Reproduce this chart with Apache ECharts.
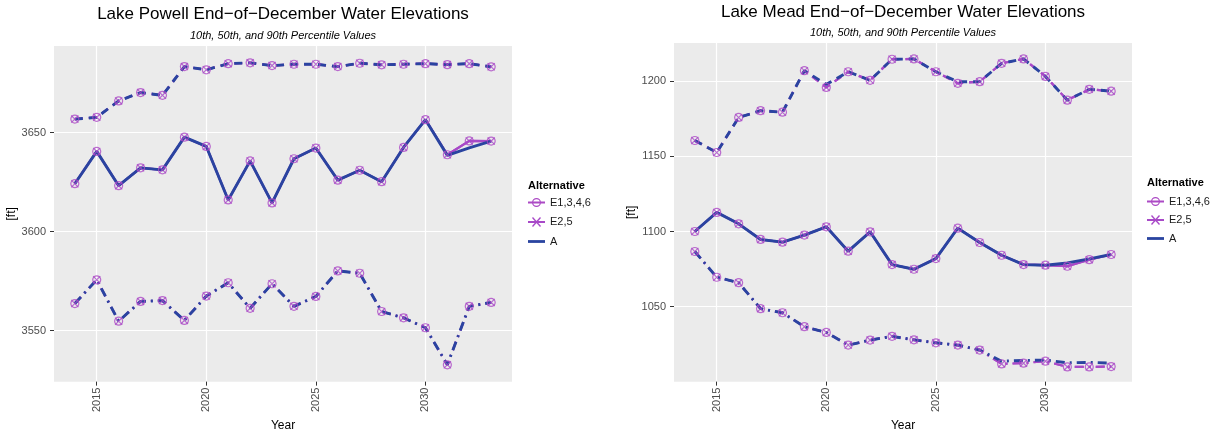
<!DOCTYPE html>
<html>
<head>
<meta charset="utf-8">
<script src="https://cdn.jsdelivr.net/npm/echarts@6/dist/echarts.min.js"></script>
<style>
html,body{margin:0;padding:0;background:#fff;}
#chart{width:1217px;height:437px;}
</style>
</head>
<body>
<div id="chart"></div>
<script>
// ---------- data ----------
const years = [2014,2015,2016,2017,2018,2019,2020,2021,2022,2023,2024,2025,2026,2027,2028,2029,2030,2031,2032,2033];
const alternatives = ['E1,3,4,6', 'E2,5', 'A'];
const xTickValues = [2015, 2020, 2025, 2030];
const powellTickValues = [3550, 3600, 3650];
const meadTickValues = [1050, 1100, 1150, 1200];

// Lake Powell
const powellE1346_p90 = [3656.8,3657.7,3666.0,3670.2,3668.8,3683.3,3681.7,3684.8,3685.2,3683.8,3684.5,3684.5,3683.3,3685.0,3684.2,3684.5,3684.8,3684.3,3684.8,3683.2];
const powellE25_p90   = [3656.8,3657.7,3666.0,3670.2,3668.8,3683.3,3681.7,3684.8,3685.2,3683.8,3684.5,3684.5,3683.3,3685.0,3684.2,3684.5,3684.8,3684.3,3684.8,3683.2];
const powellA_p90     = [3656.8,3657.7,3666.0,3670.2,3668.8,3683.3,3681.7,3684.8,3685.2,3683.8,3684.5,3684.5,3683.3,3685.0,3684.2,3684.5,3684.8,3684.3,3684.8,3683.2];
const powellE1346_p50 = [3624.2,3640.5,3623.2,3632.2,3631.2,3647.7,3643.0,3616.0,3635.7,3614.5,3636.8,3642.2,3626.0,3631.0,3625.2,3642.5,3656.5,3638.8,3645.8,3645.7];
const powellE25_p50   = [3624.2,3640.5,3623.2,3632.2,3631.2,3647.7,3643.0,3616.0,3635.7,3614.5,3636.8,3642.2,3626.0,3631.0,3625.2,3642.5,3656.5,3638.8,3645.8,3645.7];
const powellA_p50     = [3624.2,3640.5,3623.2,3632.2,3631.2,3647.7,3643.0,3616.0,3635.7,3614.5,3636.8,3642.2,3626.0,3631.0,3625.2,3642.5,3656.5,3638.5,3642.3,3645.7];
const powellE1346_p10 = [3563.7,3575.7,3554.8,3564.8,3565.2,3555.2,3567.5,3574.2,3561.3,3573.7,3562.3,3567.3,3580.2,3579.0,3559.7,3556.5,3551.5,3532.8,3562.3,3564.3];
const powellE25_p10   = [3563.7,3575.7,3554.8,3564.8,3565.2,3555.2,3567.5,3574.2,3561.3,3573.7,3562.3,3567.3,3580.2,3579.0,3559.7,3556.5,3551.5,3532.8,3562.3,3564.3];
const powellA_p10     = [3563.7,3575.7,3554.8,3564.8,3565.2,3555.2,3567.5,3574.2,3561.3,3573.7,3562.3,3567.3,3580.2,3579.0,3559.7,3556.5,3551.5,3532.8,3562.3,3564.3];

// Lake Mead
const meadE1346_p90 = [1160.5,1152.5,1175.8,1180.3,1179.3,1206.9,1195.8,1206.2,1200.5,1214.5,1214.7,1206.2,1198.5,1199.6,1211.8,1214.7,1203.1,1187.3,1194.5,1193.3];
const meadE25_p90   = [1160.5,1152.5,1175.8,1180.3,1179.3,1206.9,1195.8,1206.2,1200.5,1214.5,1214.7,1206.2,1198.5,1199.6,1211.8,1214.7,1203.1,1187.3,1194.5,1193.3];
const meadA_p90     = [1160.5,1152.5,1175.8,1180.3,1179.3,1206.9,1197.8,1206.2,1200.5,1214.5,1214.7,1206.2,1199.5,1199.6,1211.8,1214.7,1203.1,1187.3,1194.5,1193.3];
const meadE1346_p50 = [1100.0,1112.7,1105.1,1094.7,1092.9,1097.6,1103.1,1086.9,1099.8,1078.0,1074.9,1082.0,1102.2,1092.7,1084.2,1078.0,1077.6,1076.9,1081.3,1084.7];
const meadE25_p50   = [1100.0,1112.7,1105.1,1094.7,1092.9,1097.6,1103.1,1086.9,1099.8,1078.0,1074.9,1082.0,1102.2,1092.7,1084.2,1078.0,1077.6,1076.9,1081.3,1084.7];
const meadA_p50     = [1100.0,1112.7,1105.1,1094.7,1092.9,1097.6,1103.1,1086.9,1099.8,1078.0,1074.9,1082.0,1102.2,1092.7,1084.2,1078.0,1077.6,1079.1,1081.8,1084.7];
const meadE1346_p10 = [1086.7,1069.6,1066.0,1048.7,1046.0,1036.7,1032.9,1024.5,1027.8,1030.3,1028.0,1026.0,1024.5,1021.2,1012.0,1012.5,1013.8,1010.0,1010.0,1010.2];
const meadE25_p10   = [1086.7,1069.6,1066.0,1048.7,1046.0,1036.7,1032.9,1024.5,1027.8,1030.3,1028.0,1026.0,1024.5,1021.2,1012.0,1012.5,1013.8,1010.0,1010.0,1010.2];
const meadA_p10     = [1086.7,1069.6,1066.0,1048.7,1046.0,1036.7,1032.9,1024.5,1027.8,1030.3,1028.0,1026.0,1024.5,1021.2,1013.8,1014.3,1014.5,1012.7,1013.0,1012.5];

// ---------- styling ----------
const FONT = 'Liberation Sans, Arial, sans-serif';
const MAG1 = '#AC4AC5';
const MAG2 = '#A849C8';
const BLUE = '#2A44A0';
const DASH = { p90: [8, 6], p50: 'solid', p10: [9, 5, 2, 5] };
const X_SYMBOL = 'path://M0,1 L1,0 L10,9 L9,10 Z M9,0 L10,1 L1,10 L0,9 Z';
const ICON_E1 = 'path://M0,4.1 L17,4.1 L17,5.9 L0,5.9 Z M8.5,0.5 A4.5,4.5 0 1,1 8.49,0.5 Z M8.5,1.7 A3.3,3.3 0 1,0 8.51,1.7 Z';
const ICON_E2 = 'path://M0,4.1 L17,4.1 L17,5.9 L0,5.9 Z M4,1 L5,0 L13,9 L12,10 Z M12,0 L13,1 L5,10 L4,9 Z';
const ICON_A = 'path://M0,0 L0,0 M17,10 L17,10 M0,3.6 L17,3.6 L17,6.4 L0,6.4 Z';

function pairs(vals) { return years.map((y, i) => [y, vals[i]]); }

function panelSeries(idx, sets) {
  const out = [];
  ['p90', 'p50', 'p10'].forEach(p => {
    const s = sets[p];
    out.push({ type: 'line', name: 'E1,3,4,6', xAxisIndex: idx, yAxisIndex: idx, data: pairs(s[0]),
      symbol: 'none', lineStyle: { color: MAG1, width: 2.2, type: DASH[p] }, itemStyle: { color: MAG1 }, z: 2, silent: true });
    out.push({ type: 'line', name: 'E2,5', xAxisIndex: idx, yAxisIndex: idx, data: pairs(s[1]),
      symbol: 'none', lineStyle: { color: MAG2, width: 2.2, type: DASH[p] }, itemStyle: { color: MAG2 }, z: 2, silent: true });
    out.push({ type: 'line', name: 'A', xAxisIndex: idx, yAxisIndex: idx, data: pairs(s[2]),
      symbol: 'none', lineStyle: { color: BLUE, width: 2.9, type: DASH[p] }, itemStyle: { color: BLUE }, z: 3, silent: true });
    out.push({ type: 'scatter', name: 'E1,3,4,6', xAxisIndex: idx, yAxisIndex: idx, data: pairs(s[0]),
      symbol: 'circle', symbolSize: 8, itemStyle: { color: 'rgba(0,0,0,0)', borderColor: MAG1, borderWidth: 1.2 }, z: 4, silent: true });
    out.push({ type: 'scatter', name: 'E2,5', xAxisIndex: idx, yAxisIndex: idx, data: pairs(s[1]),
      symbol: X_SYMBOL, symbolSize: 8, itemStyle: { color: MAG2 }, z: 4, silent: true });
  });
  return out;
}

const series = [].concat(
  panelSeries(0, {
    p90: [powellE1346_p90, powellE25_p90, powellA_p90],
    p50: [powellE1346_p50, powellE25_p50, powellA_p50],
    p10: [powellE1346_p10, powellE25_p10, powellA_p10]
  }),
  panelSeries(1, {
    p90: [meadE1346_p90, meadE25_p90, meadA_p90],
    p50: [meadE1346_p50, meadE25_p50, meadA_p50],
    p10: [meadE1346_p10, meadE25_p10, meadA_p10]
  })
);

const plain = v => String(Math.round(v));

function xAxis(idx) {
  return {
    gridIndex: idx, type: 'value', min: 2013.05, max: 2033.95, splitNumber: 4,
    name: 'Year', nameLocation: 'middle', nameGap: 32,
    nameTextStyle: { fontFamily: FONT, fontSize: 12, color: '#000' },
    axisLine: { show: false },
    axisTick: { show: true, length: 4, lineStyle: { color: '#333', width: 1 }, customValues: xTickValues },
    axisLabel: { rotate: 90, margin: 6, fontFamily: FONT, fontSize: 11, color: '#4D4D4D',
      formatter: plain, customValues: xTickValues },
    splitLine: { show: true, lineStyle: { color: '#FFFFFF', width: 1.2 } }
  };
}
function yAxis(idx, min, max, split, ticks) {
  return {
    gridIndex: idx, type: 'value', min: min, max: max, splitNumber: split,
    name: '[ft]', nameLocation: 'middle', nameGap: 30, nameRotate: 90,
    nameTextStyle: { fontFamily: FONT, fontSize: 12, color: '#000' },
    axisLine: { show: false },
    axisTick: { show: true, length: 4, lineStyle: { color: '#333', width: 1 }, customValues: ticks },
    axisLabel: { margin: 8, fontFamily: FONT, fontSize: 11, color: '#4D4D4D',
      formatter: plain, customValues: ticks },
    splitLine: { show: true, lineStyle: { color: '#FFFFFF', width: 1.2 } }
  };
}
function legend(left, top, gap) {
  return {
    orient: 'vertical', left: left, top: top, padding: 0, itemGap: gap,
    itemWidth: 17, itemHeight: 10, selectedMode: false,
    itemStyle: { borderWidth: 0 },
    textStyle: { fontFamily: FONT, fontSize: 11, color: '#1A1A1A' },
    data: [
      { name: 'E1,3,4,6', icon: ICON_E1, itemStyle: { color: MAG1, borderWidth: 0 } },
      { name: 'E2,5', icon: ICON_E2, itemStyle: { color: MAG2, borderWidth: 0 } },
      { name: 'A', icon: ICON_A, itemStyle: { color: BLUE, borderWidth: 0 } }
    ]
  };
}

const option = {
  animation: false,
  backgroundColor: '#FFFFFF',
  title: [
    { text: 'Lake Powell End\u2212of\u2212December Water Elevations', left: 283, top: 6, padding: 0, textAlign: 'center',
      textStyle: { fontFamily: FONT, fontSize: 17, fontWeight: 'normal', color: '#000' } },
    { text: '10th, 50th, and 90th Percentile Values', left: 283, top: 30, padding: 0, textAlign: 'center',
      textStyle: { fontFamily: FONT, fontSize: 11, fontStyle: 'italic', fontWeight: 'normal', color: '#000' } },
    { text: 'Lake Mead End\u2212of\u2212December Water Elevations', left: 903, top: 4, padding: 0, textAlign: 'center',
      textStyle: { fontFamily: FONT, fontSize: 17, fontWeight: 'normal', color: '#000' } },
    { text: '10th, 50th, and 90th Percentile Values', left: 903, top: 27, padding: 0, textAlign: 'center',
      textStyle: { fontFamily: FONT, fontSize: 11, fontStyle: 'italic', fontWeight: 'normal', color: '#000' } },
    { text: 'Alternative', left: 528, top: 180, padding: 0,
      textStyle: { fontFamily: FONT, fontSize: 11, fontWeight: 'bold', color: '#000' } },
    { text: 'Alternative', left: 1147, top: 177, padding: 0,
      textStyle: { fontFamily: FONT, fontSize: 11, fontWeight: 'bold', color: '#000' } }
  ],
  legend: [legend(528, 197, 8.5), legend(1147, 196, 7.5)],
  grid: [
    { left: 54, top: 46, width: 458, height: 338, show: true, backgroundColor: '#EBEBEB', borderWidth: 0 },
    { left: 674, top: 43, width: 458, height: 339, show: true, backgroundColor: '#EBEBEB', borderWidth: 0 }
  ],
  xAxis: [xAxis(0), xAxis(1)],
  yAxis: [
    yAxis(0, 3524.3, 3693.7, 3, powellTickValues),
    yAxis(1, 1000.2, 1225.3, 4, meadTickValues)
  ],
  series: series
};

const chart = echarts.init(document.getElementById('chart'), null, { renderer: 'canvas' });
chart.setOption(option);
</script>
</body>
</html>
